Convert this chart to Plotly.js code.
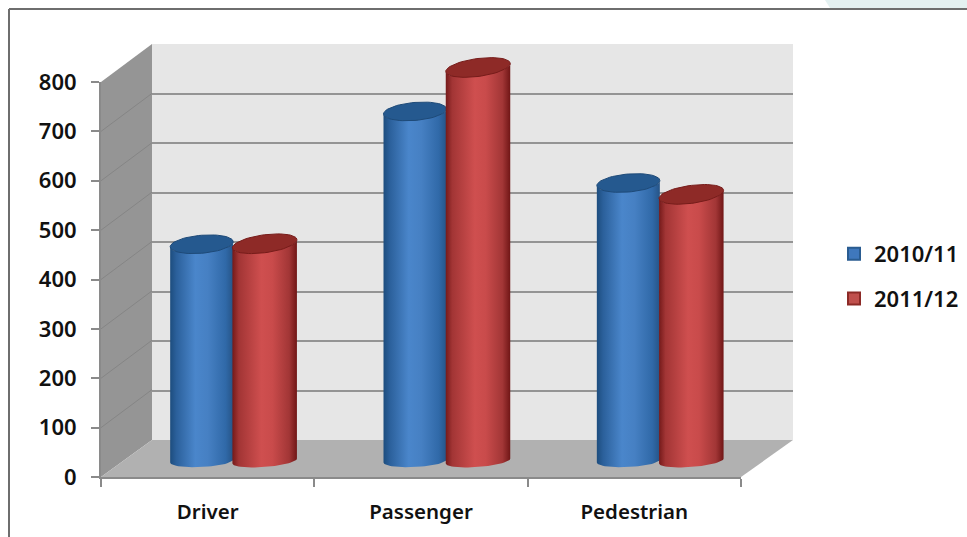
<!DOCTYPE html>
<html>
<head>
<meta charset="utf-8">
<script src="https://cdn.plot.ly/plotly-3.0.1.min.js"></script>
<style>html,body{margin:0;padding:0;background:#fff;overflow:hidden}#chart{width:967px;height:537px}</style>
</head>
<body>
<div id="chart"></div>
<script>
const categories = ['Driver', 'Passenger', 'Pedestrian'];
const series2010 = [439, 708, 563];
const series2011 = [440, 797, 540];
const seriesNames = ['2010/11', '2011/12'];
const yTicks = [0, 100, 200, 300, 400, 500, 600, 700, 800];

const W = 967, H = 537;
const fx = p => p / W, fy = p => 1 - p / H;
const BARW = 63 / 213.33;             // bar width in category units
const UNIT = 395 / 800;               // pixels per value unit
const CAP_B = 9 / UNIT, BASE_B = 6 / UNIT; // ellipse half-heights in value units
const styles = [
  {name: seriesNames[0], vals: series2010, bar: '#3f78bd', edge: '#2a5c91', cap: '#25598f', rim: '#1e4a78', tilt: 2.5, grow: 0,
   scale: [[0, '#1d4d7e'], [0.1, '#2b609b'], [0.4, '#4a86cb'], [0.6, '#4680c3'], [0.88, '#3069a8'], [1, '#265487']]},
  {name: seriesNames[1], vals: series2011, bar: '#c0504d', edge: '#8c2a27', cap: '#8e2a27', rim: '#761c1a', tilt: 4, grow: 1.5 / 213.33,
   scale: [[0, '#751a1a'], [0.1, '#a23535'], [0.45, '#cf4f4f'], [0.62, '#c94b4b'], [0.88, '#a23636'], [1, '#701616']]}
];

const traces = [];
// back wall subplot (grid only)
traces.push({type: 'scatter', mode: 'none', x: [0], y: [0], xaxis: 'x', yaxis: 'y', showlegend: false, hoverinfo: 'skip'});
// front axes subplot (labels only)
traces.push({type: 'scatter', mode: 'none', x: categories, y: categories.map(() => 0), xaxis: 'x2', yaxis: 'y2', showlegend: false, hoverinfo: 'skip'});

const idx = categories.map((c, i) => i);
styles.forEach((s, k) => {
  traces.push({type: 'bar', name: s.name, x: idx, y: s.vals, width: BARW * 0.8, xaxis: 'x3', yaxis: 'y3', legendgroup: s.name,
    marker: {color: s.bar, line: {color: s.edge, width: 2}}, hoverinfo: 'skip'});
});

styles.forEach((s, k) => {
  s.vals.forEach((v, i) => {
    const a = BARW / 2 + s.grow / 2, sh = s.tilt / UNIT;
    const cx = i + (k === 0 ? -0.5 : 0.5) * BARW;
    const bx = [], by = [], tx = [], ty = [];
    for (let d = 0; d <= 180; d += 6) {           // lower edge of the base, left to right
      const t = d * Math.PI / 180;
      bx.push(cx - a * Math.cos(t));
      by.push(0 - BASE_B * Math.sin(t) + sh * (-Math.cos(t)) * 0.6);
    }
    // up the right side, along the front of the top, down the left side
    for (let d = 0; d <= 180; d += 6) {
      const t = d * Math.PI / 180;
      bx.push(cx + a * Math.cos(t));
      by.push(v - CAP_B * Math.sin(t) + sh * Math.cos(t));
    }
    bx.push(bx[0]); by.push(by[0]);
    traces.push({type: 'scatter', mode: 'lines', x: bx, y: by, xaxis: 'x3', yaxis: 'y3', fill: 'toself',
      line: {width: 0, color: s.bar}, fillgradient: {type: 'horizontal', colorscale: s.scale},
      showlegend: false, hoverinfo: 'skip'});
    for (let d = 0; d <= 360; d += 6) {
      const t = d * Math.PI / 180;
      tx.push(cx + a * Math.cos(t));
      ty.push(v + CAP_B * Math.sin(t) + sh * Math.cos(t));
    }
    traces.push({type: 'scatter', mode: 'lines', x: tx, y: ty, xaxis: 'x3', yaxis: 'y3', fill: 'toself',
      fillcolor: s.cap, line: {width: 1, color: s.rim}, showlegend: false, hoverinfo: 'skip'});
  });
});

const poly = (pts, fill) => ({type: 'path', xref: 'paper', yref: 'paper', layer: 'below',
  path: 'M' + pts.map(p => fx(p[0]) + ',' + fy(p[1])).join('L') + 'Z', fillcolor: fill, line: {width: 0}});
const seg = (x0, y0, x1, y1, color, width) => ({type: 'line', xref: 'paper', yref: 'paper', layer: 'below',
  x0: fx(x0), y0: fy(y0), x1: fx(x1), y1: fy(y1), line: {color, width}});

const frontY = v => 477 - v * UNIT;
const shapes = [
  poly([[825, 0], [967, 0], [967, 8], [830, 8]], '#e4f1f1'),
  seg(9, 9, 967, 9, '#6e6e6e', 2),
  seg(9, 9, 9, 537, '#6e6e6e', 2),
  poly([[152, 44], [793, 44], [793, 440], [152, 440]], '#e6e6e6'),
  poly([[101, 82], [152, 44], [152, 440], [101, 477]], '#959595'),
  poly([[101, 477], [152, 440], [793, 440], [741, 477]], '#b1b1b1')
];
yTicks.slice(1, -1).forEach(v => {
  shapes.push(seg(101, frontY(v), 152, frontY(v) - 38, '#858585', 1));
});

const yFont = {family: 'Noto Sans', size: 22, color: '#111', weight: 600};
const xFont = {family: 'Noto Sans', size: 20.5, color: '#111', weight: 600};
const layout = {
  width: W, height: H, margin: {l: 0, r: 0, t: 0, b: 0, pad: 0},
  paper_bgcolor: '#fff', plot_bgcolor: 'rgba(0,0,0,0)',
  barmode: 'group', bargap: 1 - 2 * BARW, bargroupgap: 0,
  showlegend: true,
  legend: {x: fx(834), y: fy(233), xanchor: 'left', yanchor: 'top', traceorder: 'grouped', tracegroupgap: 13,
    font: {family: 'Noto Sans', size: 22, color: '#111', weight: 600}, bgcolor: 'rgba(0,0,0,0)', itemclick: false},
  shapes,
  xaxis: {domain: [fx(152), fx(793)], range: [0, 1], anchor: 'y', showgrid: false, zeroline: false, showticklabels: false, ticks: '', showline: false},
  yaxis: {domain: [fy(440), fy(44)], range: [0, 800], anchor: 'x', tickvals: yTicks, showgrid: true, gridcolor: '#949494', gridwidth: 2,
    zeroline: false, showticklabels: false, ticks: '', showline: false},
  xaxis2: {domain: [fx(101), fx(741)], type: 'category', categoryarray: categories, categoryorder: 'array', range: [-0.5, 2.5], anchor: 'y2',
    tickson: 'boundaries', ticks: 'outside', ticklen: 8, tickwidth: 2, tickcolor: '#8a8a8a', showline: true, linecolor: '#8a8a8a', linewidth: 2,
    showgrid: false, zeroline: false, tickfont: xFont, ticklabelstandoff: 15},
  yaxis2: {domain: [fy(477), fy(82)], range: [0, 800], anchor: 'x2', tickvals: yTicks, ticks: 'outside', ticklen: 8, tickwidth: 2, tickcolor: '#8a8a8a',
    showline: true, linecolor: '#8a8a8a', linewidth: 2, showgrid: false, zeroline: false, tickfont: yFont, ticklabelstandoff: 10},
  xaxis3: {domain: [fx(126.5), fx(766.5)], range: [-0.5, 2.5], anchor: 'y3', visible: false},
  // value axis of the columns: 0 sits at pixel 461, 800 at pixel 66; extended so base and cap ellipses are not clipped
  yaxis3: {domain: [fy(461 + 40 * UNIT), fy(66 - 100 * UNIT)], range: [-40, 900], anchor: 'x3', visible: false}
};
Plotly.newPlot('chart', traces, layout, {displayModeBar: false, staticPlot: true});
</script>
</body>
</html>
